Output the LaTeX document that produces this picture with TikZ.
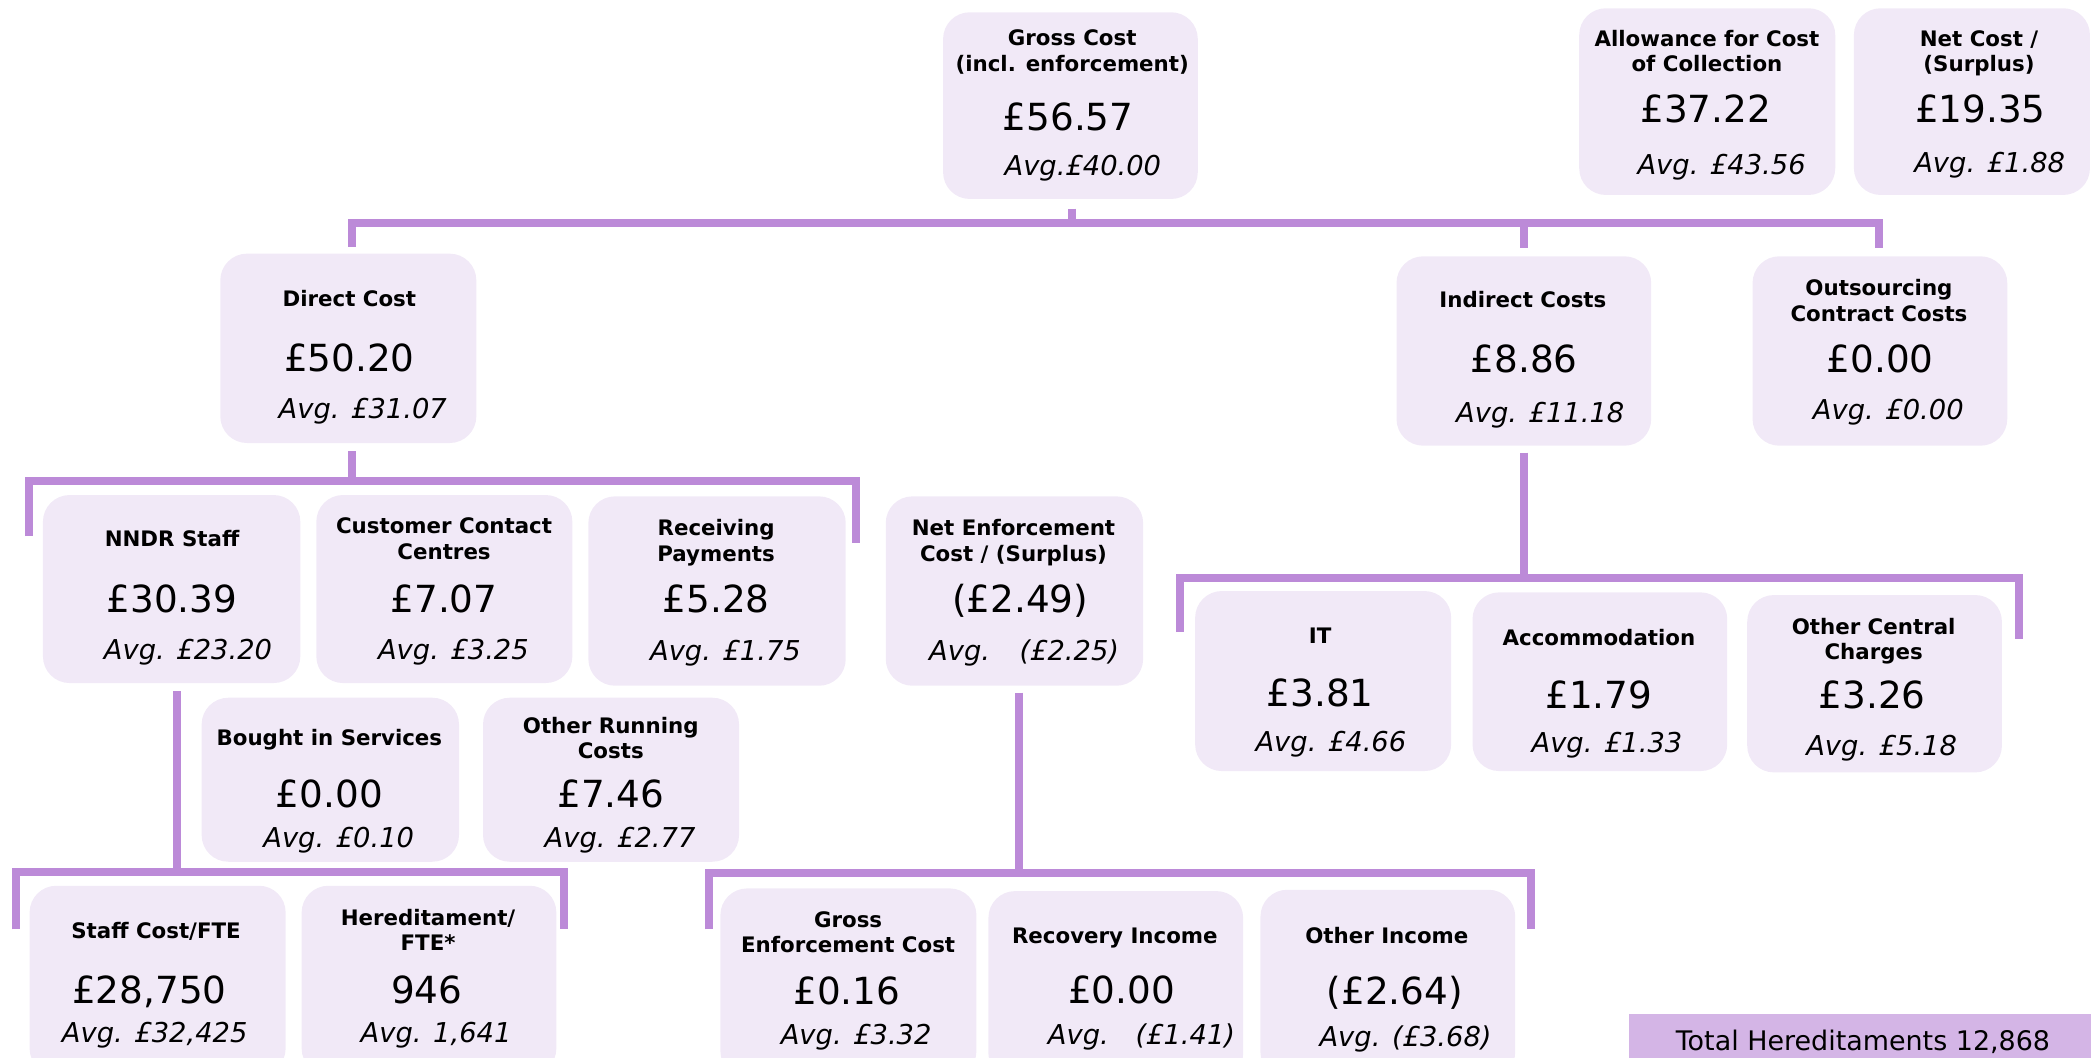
\documentclass[tikz,border=0pt]{standalone}
\usepackage{fontspec}
\setmainfont{DejaVu Sans}
\definecolor{boxc}{RGB}{241,233,247}
\definecolor{linec}{RGB}{188,138,216}
\definecolor{totc}{RGB}{212,181,230}
\newcommand\cbox[5]{\node[cb, minimum width={#4pt-#2pt}, minimum height={#5pt-#3pt}] (#1) at (#2,#3) {};}
\newcommand\tx[5]{\node[#2] (#1) at (#3,#4) {#5};}
\begin{document}
\begin{tikzpicture}[x=1pt,y=-1pt,
  cb/.style={fill=boxc, draw=none, rounded corners=20pt, inner sep=0pt, anchor=north west},
  ttl/.style={font=\bfseries\fontsize{16}{19}\selectfont, anchor=base, yshift=-5.8pt, inner sep=0pt},
  val/.style={font=\fontsize{28}{32}\selectfont, anchor=base, yshift=-10.2pt, inner sep=0pt},
  avg/.style={font=\itshape\fontsize{20.5}{24}\selectfont, anchor=base, yshift=-7.5pt, inner sep=0pt},
  tot/.style={font=\fontsize{20.2}{24}\selectfont, anchor=base, yshift=-7.4pt, inner sep=0pt},
  conn/.style={draw=linec, line width=6pt, line cap=butt, line join=miter}]
\clip (0,0) rectangle (1568,793);
% boxes
\cbox{gross}{707}{9}{898}{149}
\cbox{allow}{1184}{6}{1376}{146}
\cbox{net}{1390}{6}{1567}{146}
\cbox{direct}{165}{190}{357}{332}
\cbox{indirect}{1047}{192}{1238}{334}
\cbox{outs}{1314}{192}{1505}{334}
\cbox{nndr}{32}{371}{225}{512}
\cbox{ccc}{237}{371}{429}{512}
\cbox{recv}{441}{372}{634}{514}
\cbox{netenf}{664}{372}{857}{514}
\cbox{bought}{151}{523}{344}{646}
\cbox{orc}{362}{523}{554}{646}
\cbox{staff}{22}{664}{214}{806}
\cbox{hered}{226}{664}{417}{806}
\cbox{grossenf}{540}{666}{732}{808}
\cbox{recov}{741}{668}{932}{810}
\cbox{othinc}{945}{667}{1136}{809}
\cbox{it}{896}{443}{1088}{578}
\cbox{accom}{1104}{444}{1295}{578}
\cbox{occ}{1310}{446}{1501}{579}
\node[fill=totc, draw=none, inner sep=0pt, anchor=north west, minimum width=347pt, minimum height=40pt] (total) at (1221,760) {};
% texts
\tx{gross-t1}{ttl}{804}{28.5}{Gross Cost}
\tx{gross-t2}{ttl}{804}{47.5}{(incl. enforcement)}
\tx{gross-v}{val}{801}{88}{£56.57}
\tx{gross-a}{avg}{812}{124}{Avg.£40.00}
\tx{allow-t1}{ttl}{1280}{29}{Allowance for Cost}
\tx{allow-t2}{ttl}{1280}{48}{of Collection}
\tx{allow-v}{val}{1279}{82}{£37.22}
\tx{allow-a}{avg}{1291}{123}{Avg. £43.56}
\tx{net-t1}{ttl}{1484}{29}{Net Cost /}
\tx{net-t2}{ttl}{1484}{48}{(Surplus)}
\tx{net-v}{val}{1485}{82}{£19.35}
\tx{net-a}{avg}{1492}{122}{Avg. £1.88}
\tx{direct-t}{ttl}{262}{224}{Direct Cost}
\tx{direct-v}{val}{262}{268}{£50.20}
\tx{direct-a}{avg}{272}{306}{Avg. £31.07}
\tx{indirect-t}{ttl}{1142}{225}{Indirect Costs}
\tx{indirect-v}{val}{1143}{269}{£8.86}
\tx{indirect-a}{avg}{1155}{309}{Avg. £11.18}
\tx{outs-t1}{ttl}{1409}{216}{Outsourcing}
\tx{outs-t2}{ttl}{1409}{235}{Contract Costs}
\tx{outs-v}{val}{1410}{269}{£0.00}
\tx{outs-a}{avg}{1416}{307}{Avg. £0.00}
\tx{nndr-t}{ttl}{129}{404}{NNDR Staff}
\tx{nndr-v}{val}{129}{449}{£30.39}
\tx{nndr-a}{avg}{141}{487}{Avg. £23.20}
\tx{ccc-t1}{ttl}{333}{394.5}{Customer Contact}
\tx{ccc-t2}{ttl}{333}{413.5}{Centres}
\tx{ccc-v}{val}{333}{449}{£7.07}
\tx{ccc-a}{avg}{340}{487}{Avg. £3.25}
\tx{recv-t1}{ttl}{537}{396}{Receiving}
\tx{recv-t2}{ttl}{537}{415}{Payments}
\tx{recv-v}{val}{537}{449}{£5.28}
\tx{recv-a}{avg}{544}{488}{Avg. £1.75}
\tx{netenf-t1}{ttl}{760}{396}{Net Enforcement}
\tx{netenf-t2}{ttl}{760}{415}{Cost / (Surplus)}
\tx{netenf-v}{val}{765}{449}{(£2.49)}
\tx{netenf-a}{avg}{768}{488}{Avg.\hspace{22pt}(£2.25)}
\tx{bought-t}{ttl}{247}{553.5}{Bought in Services}
\tx{bought-v}{val}{247}{595}{£0.00}
\tx{bought-a}{avg}{254}{628}{Avg. £0.10}
\tx{orc-t1}{ttl}{458}{544}{Other Running}
\tx{orc-t2}{ttl}{458}{563}{Costs}
\tx{orc-v}{val}{458}{595}{£7.46}
\tx{orc-a}{avg}{465}{628}{Avg. £2.77}
\tx{staff-t}{ttl}{117}{698}{Staff Cost/FTE}
\tx{staff-v}{val}{112}{742}{£28,750}
\tx{staff-a}{avg}{116}{774}{Avg. £32,425}
\tx{hered-t1}{ttl}{321}{688}{Hereditament/}
\tx{hered-t2}{ttl}{321}{707}{FTE*}
\tx{hered-v}{val}{320}{742}{946}
\tx{hered-a}{avg}{327}{774}{Avg. 1,641}
\tx{grossenf-t1}{ttl}{636}{690}{Gross}
\tx{grossenf-t2}{ttl}{636}{708.5}{Enforcement Cost}
\tx{grossenf-v}{val}{635}{743}{£0.16}
\tx{grossenf-a}{avg}{642}{776}{Avg. £3.32}
\tx{recov-t}{ttl}{836}{702}{Recovery Income}
\tx{recov-v}{val}{841}{742}{£0.00}
\tx{recov-a}{avg}{856}{776}{Avg.\hspace{20pt}(£1.41)}
\tx{othinc-t}{ttl}{1040}{702}{Other Income}
\tx{othinc-v}{val}{1046}{743}{(£2.64)}
\tx{othinc-a}{avg}{1054}{777}{Avg. (£3.68)}
\tx{it-t}{ttl}{990}{477}{IT}
\tx{it-v}{val}{990}{519.5}{£3.81}
\tx{it-a}{avg}{998}{556}{Avg. £4.66}
\tx{accom-t}{ttl}{1199}{478}{Accommodation}
\tx{accom-v}{val}{1199}{521}{£1.79}
\tx{accom-a}{avg}{1205}{557}{Avg. £1.33}
\tx{occ-t1}{ttl}{1405}{470}{Other Central}
\tx{occ-t2}{ttl}{1405}{489}{Charges}
\tx{occ-v}{val}{1404}{521}{£3.26}
\tx{occ-a}{avg}{1411}{559}{Avg. £5.18}
\tx{total-t}{tot}{1397}{780}{Total Hereditaments 12,868}
% connector coordinates
\coordinate (g1) at (804,167);
\coordinate (b1a) at (264,185);
\coordinate (b1b) at (264,167);
\coordinate (b1c) at (1409,167);
\coordinate (b1d) at (1409,186);
\coordinate (b1e) at (1143,186);
\coordinate (b1f) at (1143,167);
\coordinate (d1) at (264,361);
\coordinate (b2a) at (22,402);
\coordinate (b2b) at (22,361);
\coordinate (b2c) at (642,361);
\coordinate (b2d) at (642,407);
\coordinate (n1) at (133,654);
\coordinate (b3a) at (12,697);
\coordinate (b3b) at (12,654);
\coordinate (b3c) at (423,654);
\coordinate (b3d) at (423,697);
\coordinate (e1) at (764,655);
\coordinate (b4a) at (532,697);
\coordinate (b4b) at (532,655);
\coordinate (b4c) at (1148,655);
\coordinate (b4d) at (1148,697);
\coordinate (i1) at (1143,433.5);
\coordinate (b5a) at (885,474);
\coordinate (b5b) at (885,433.5);
\coordinate (b5c) at (1514,433.5);
\coordinate (b5d) at (1514,479);
% connectors
\draw[conn, shorten <=7pt] (gross.south -| g1) -- (g1);
\draw[conn] (b1a) -- (b1b) -- (b1c) -- (b1d);
\draw[conn] (b1f) -- (b1e);
\draw[conn, shorten <=6pt] (direct.south -| d1) -- (d1);
\draw[conn] (b2a) -- (b2b) -- (b2c) -- (b2d);
\draw[conn, shorten <=6pt] (nndr.south -| n1) -- (n1);
\draw[conn] (b3a) -- (b3b) -- (b3c) -- (b3d);
\draw[conn, shorten <=5pt] (netenf.south -| e1) -- (e1);
\draw[conn] (b4a) -- (b4b) -- (b4c) -- (b4d);
\draw[conn, shorten <=5pt] (indirect.south -| i1) -- (i1);
\draw[conn] (b5a) -- (b5b) -- (b5c) -- (b5d);
\end{tikzpicture}
\end{document}
